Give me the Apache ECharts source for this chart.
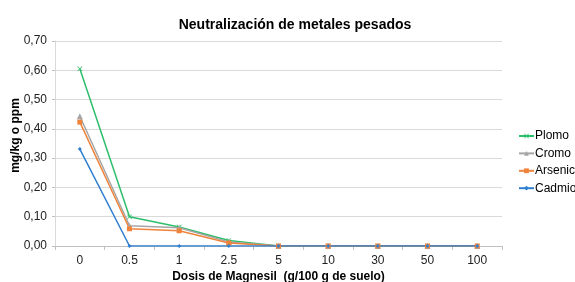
<!DOCTYPE html>
<html><head><meta charset="utf-8">
<script src="https://cdn.jsdelivr.net/npm/echarts@6/dist/echarts.min.js"></script>
<style>html,body{margin:0;padding:0;background:#fff}#c{width:575px;height:282px}</style>
</head><body><div id="c"></div>
<script>
const categories = ['0','0.5','1','2.5','5','10','30','50','100'];
const plomo    = [0.605, 0.100, 0.065, 0.019, 0, 0, 0, 0, 0];
const cromo    = [0.443, 0.069, 0.062, 0.014, 0, 0, 0, 0, 0];
const arsenico = [0.423, 0.059, 0.052, 0.010, 0, 0, 0, 0, 0];
const cadmio   = [0.331, 0, 0, 0, 0, 0, 0, 0, 0];

const font = 'Liberation Sans, Arial, sans-serif';
const xPath = 'path://M1,0L5,4L9,0L10,1L6,5L10,9L9,10L5,6L1,10L0,9L4,5L0,1Z';
function s(name, data, color, symbol, size){
  return {name, type:'line', data, symbol, symbolSize:size, showSymbol:true,
    lineStyle:{color, width:1.5}, itemStyle:{color}, z: 2};
}
const chart = echarts.init(document.getElementById('c'), null, {renderer:'canvas'});
chart.setOption({
  animation:false,
  backgroundColor:'#fff',
  title:{text:'Neutralización de metales pesados', left:290, top:12, textAlign:'center',
    textStyle:{fontFamily:font, fontSize:14, fontWeight:'bold', color:'#000', lineHeight:16}},
  grid:{left:55, right:73, top:41, bottom:36, containLabel:false, outerBoundsMode:'none'},
  legend:{orient:'vertical', left:513, top:124, itemGap:3.4, itemWidth:15, itemHeight:6,
    textStyle:{fontFamily:font, fontSize:12, color:'#000', lineHeight:14, padding:[0,0,0,-4]},
    data:['Plomo','Cromo','Arsenico','Cadmio']},
  xAxis:{type:'category', data:categories, boundaryGap:true,
    name:'Dosis de Magnesil  (g/100 g de suelo)', nameLocation:'middle', nameGap:25,
    nameMoveOverlap:false,
    nameTextStyle:{fontFamily:font, fontSize:12, fontWeight:'bold', color:'#000'},
    axisLine:{lineStyle:{color:'#bfbfbf', width:1}},
    axisTick:{show:true, length:4, lineStyle:{color:'#bfbfbf'}},
    axisLabel:{fontFamily:font, fontSize:12, color:'#222', margin:9}},
  yAxis:{type:'value', min:0, max:0.7, interval:0.1,
    name:'mg/kg o ppm', nameLocation:'middle', nameGap:33, nameMoveOverlap:false,
    nameTextStyle:{fontFamily:font, fontSize:12, fontWeight:'bold', color:'#000', padding:[0,0,0,16]},
    axisLine:{show:true, lineStyle:{color:'#d9d9d9'}},
    axisTick:{show:true, length:3, lineStyle:{color:'#bfbfbf'}},
    splitLine:{lineStyle:{color:'#d9d9d9'}},
    axisLabel:{fontFamily:font, fontSize:12, color:'#222', margin:8,
      formatter:v=>v.toFixed(2).replace('.',',')}},
  series:[
    s('Plomo', plomo, '#2dbe6c', xPath, 5),
    s('Cromo', cromo, '#a5a5a5', 'triangle', 6),
    s('Arsenico', arsenico, '#f0833a', 'rect', 5),
    s('Cadmio', cadmio, '#2f7fd1', 'diamond', 4)
  ]
});
</script></body></html>
